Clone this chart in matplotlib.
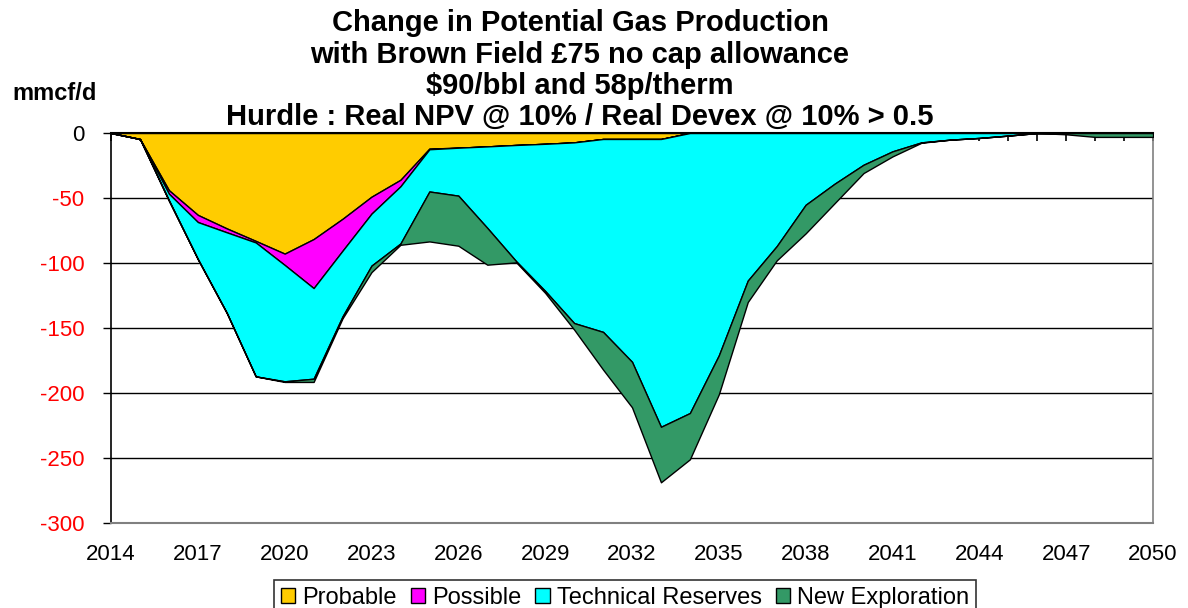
import matplotlib
matplotlib.use("Agg")
import matplotlib.pyplot as plt
from matplotlib.patches import Patch
import numpy as np

plt.rcParams['font.family'] = ['Liberation Sans', 'DejaVu Sans']

years = list(range(2014, 2051))

probable = [0, -4.6, -44, -63, -73.4, -83, -92.8, -81.6, -66, -49, -36, -12,
            -11.3, -10.3, -9.2, -8.3, -7.2, -4.6, -4.6, -4.6, 0,
            0, 0, 0, 0, 0, 0, 0, 0, 0, 0, 0, 0, 0, 0, 0, 0]
possible = [0, 0, -2.7, -5.5, -3, -1.2, -8.7, -37.7, -24.5, -13, -5, -0.5,
            0, 0, 0, 0, 0, 0, 0, 0, 0,
            0, 0, 0, 0, 0, 0, 0, 0, 0, 0, 0, 0, 0, 0, 0, 0]
technical = [0, 0, -5, -28.5, -62, -103, -89.5, -69.7, -50.5, -40, -44, -32.5,
             -36.9, -62.7, -89.5, -113.2, -139, -148.4, -171.4, -221.4, -215.4,
             -171, -113.5, -87, -55.2, -39, -24.4, -14.1, -7.2, -5.1, -3.8, -2,
             0, 0, 0, 0, 0]
new_exploration = [0, 0, -0.5, 0, 0, 0, -0.5, -2.5, -1.5, -5, -1, -38.4,
                   -38.5, -28.3, -0.8, -1.5, -5, -29, -35, -42.7, -35.6,
                   -30, -16.5, -11, -22, -15, -6.4, -3.9, -0.3, 0, 0, 0,
                   0, -1, -3, -3, -3]

series_names = ["Probable", "Possible", "Technical Reserves", "New Exploration"]
colors = ["#FFCC00", "#FF00FF", "#00FFFF", "#339966"]

W, H = 1188, 608
fig = plt.figure(figsize=(W / 100, H / 100), dpi=100)
ax = fig.add_axes([111 / W, 1 - 523 / H, (1153 - 111) / W, 390 / H])

ax.stackplot(years, probable, possible, technical, new_exploration,
             colors=colors, edgecolor="black", linewidth=1.0, zorder=3)

ax.set_xlim(2014, 2050)
ax.set_ylim(-300, 0)

# gridlines
yt = list(range(-300, 1, 50))
for v in yt[1:-1]:
    ax.axhline(v, color="black", linewidth=1.0, zorder=1)
ax.set_yticks(yt)
ax.set_yticklabels([str(v) for v in yt], fontsize=16)
for lbl, v in zip(ax.get_yticklabels(), yt):
    lbl.set_color("black" if v == 0 else "red")
ax.tick_params(axis="y", direction="out", length=6, width=1, pad=13)

xt_major = list(range(2014, 2051, 3))
ax.set_xticks(xt_major)
ax.set_xticklabels([str(v) for v in xt_major], fontsize=16)
ax.set_xticks(years, minor=True)
ax.tick_params(axis="x", which="both", bottom=False, top=True, direction="in",
               length=6, width=1.2, labelbottom=True, labeltop=False, pad=15)

ax.spines["left"].set_color("black")
ax.spines["left"].set_linewidth(1.2)
ax.spines["top"].set_color("black")
ax.spines["top"].set_linewidth(1.5)
ax.spines["top"].set_zorder(5)
ax.spines["right"].set_color("#808080")
ax.spines["bottom"].set_color("#808080")
ax.spines["right"].set_linewidth(1.2)
ax.spines["bottom"].set_linewidth(1.5)

title_lines = ["Change in Potential Gas Production",
               "with Brown Field £75 no cap allowance",
               "$90/bbl and 58p/therm",
               "Hurdle : Real NPV @ 10% / Real Devex @ 10% > 0.5"]
ys = [23, 55, 86, 117]
for t, y in zip(title_lines, ys):
    fig.text(580 / W, 1 - y / H, t, ha="center", va="center",
             fontsize=21, fontweight="bold")

fig.text(55 / W, 1 - 93 / H, "mmcf/d", ha="center", va="center",
         fontsize=17, fontweight="bold")

handles = [Patch(facecolor=c, edgecolor="black", linewidth=1) for c in colors]
leg = fig.legend(handles, series_names, loc="upper center",
                 bbox_to_anchor=(625 / W, 1 - 580 / H), ncol=4, fontsize=17,
                 frameon=True, fancybox=False, edgecolor="black",
                 handlelength=0.6, handleheight=0.6, handletextpad=0.3,
                 columnspacing=0.6, borderpad=0.3, borderaxespad=0)
leg.get_frame().set_linewidth(1.2)

fig.savefig("out.png", dpi=100)
